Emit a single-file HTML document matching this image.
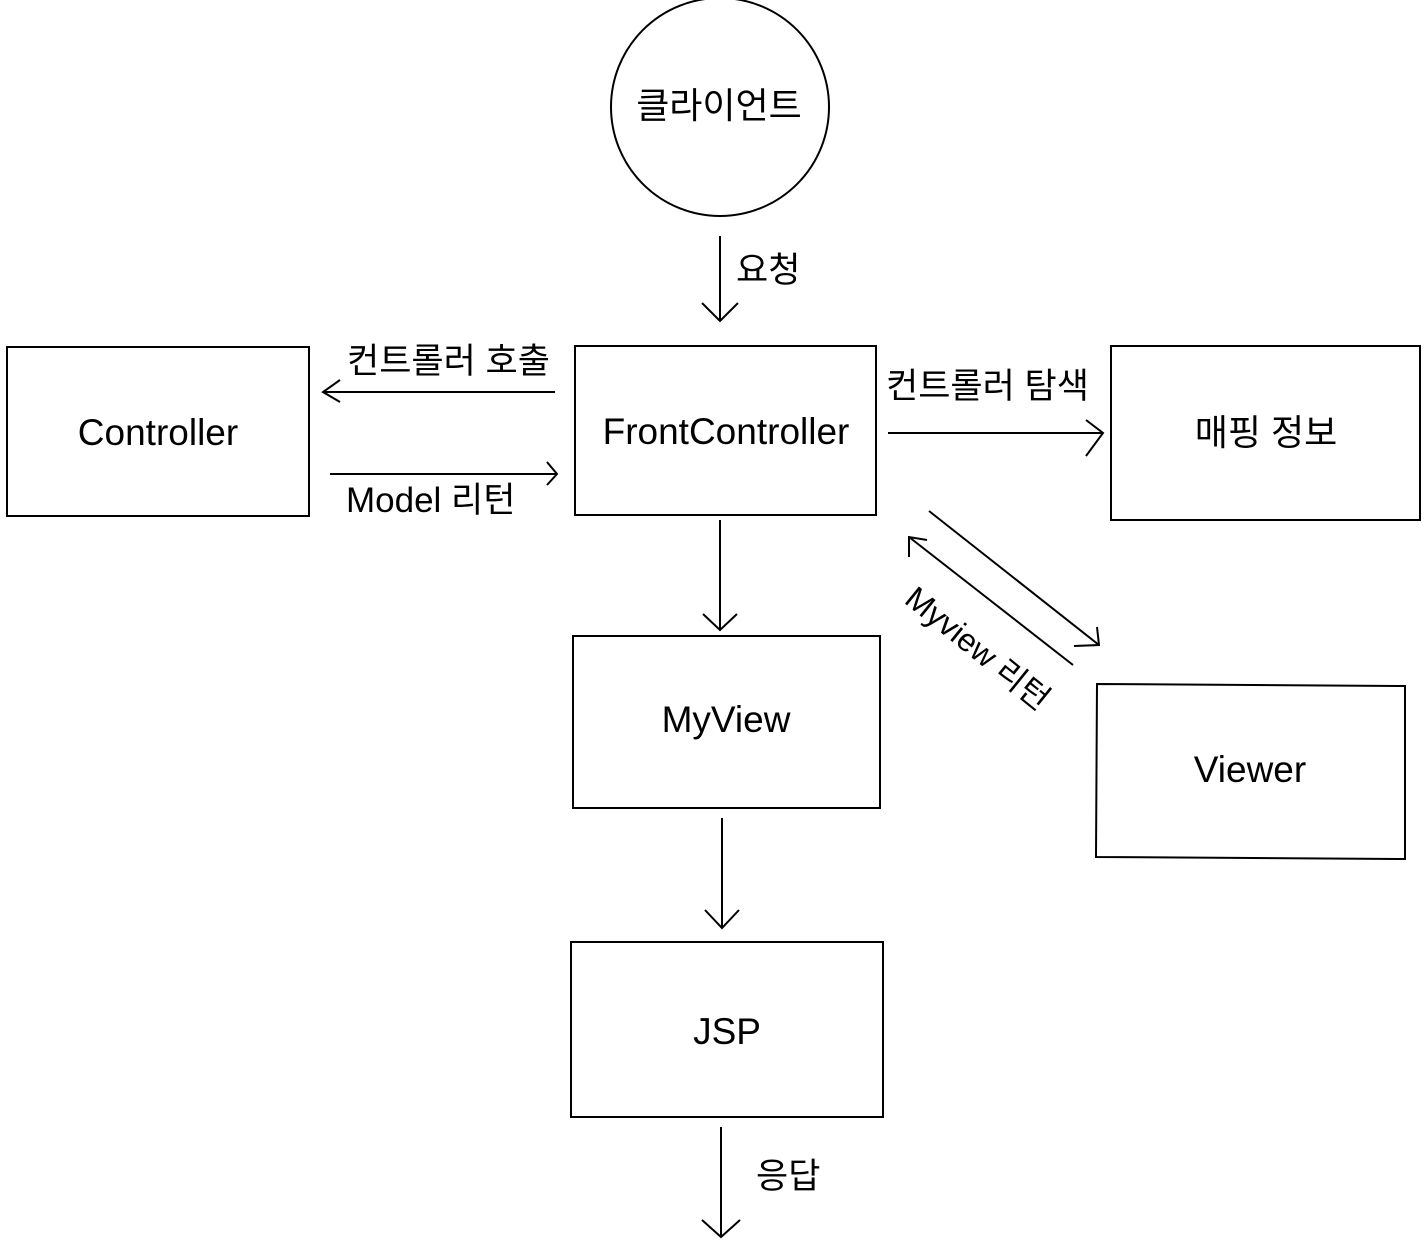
<!DOCTYPE html>
<html><head><meta charset="utf-8"><style>
html,body{margin:0;padding:0;background:#fff;}
svg text{font-family:"Liberation Sans","Noto Sans CJK KR",sans-serif;fill:#000;}
</style></head><body>
<svg width="1428" height="1249" viewBox="0 0 1428 1249" xmlns="http://www.w3.org/2000/svg">
<g fill="none" stroke="#000" stroke-width="2">
<circle cx="720" cy="107" r="109"/>
<rect x="7" y="347" width="302" height="169"/>
<rect x="575" y="346" width="301" height="169"/>
<rect x="1111" y="346" width="309" height="174"/>
<rect x="573" y="636" width="307" height="172"/>
<polygon points="1097,684 1405,686 1405,859 1096,857"/>
<rect x="571" y="942" width="312" height="175"/>
<line x1="720" y1="236" x2="720" y2="320"/><polyline points="702,303 720,321 738,303"/>
<line x1="555" y1="392" x2="323" y2="392"/><polyline points="340,380 323,392 340,402"/>
<line x1="330" y1="474" x2="557" y2="474"/><polyline points="547,462 557,474 547,485"/>
<line x1="888" y1="433" x2="1103" y2="433"/><polyline points="1086,420 1103,433 1086,456"/>
<line x1="720" y1="520" x2="720" y2="630"/><polyline points="703,614 720,630 737,614"/>
<line x1="722" y1="818" x2="722" y2="928"/><polyline points="705,910 722,928 739,910"/>
<line x1="721" y1="1127" x2="721" y2="1237"/><polyline points="702,1220 721,1237 740,1220"/>
<line x1="929" y1="511" x2="1099" y2="645"/><polyline points="1074,646 1099,645 1097,627"/>
<line x1="1073" y1="665" x2="909" y2="537"/><polyline points="909,557 909,537 927,540"/>
</g>
<g font-size="37" text-anchor="middle">
<text x="158" y="445">Controller</text>
<text x="726" y="444">FrontController</text>
<text x="1250" y="782">Viewer</text>
<text x="726" y="732">MyView</text>
<text x="727" y="1044">JSP</text>
</g>
<g font-size="36" text-anchor="middle">
<text x="719" y="118">클라이언트</text>
<text x="1266" y="445">매핑 정보</text>
</g>
<g font-size="35">
<text x="736" y="282">요청</text>
<text x="347" y="373">컨트롤러 호출</text>
<text x="346" y="512">Model 리턴</text>
<text x="886" y="398">컨트롤러 탐색</text>
<text x="756" y="1188">응답</text>
</g>
<text font-size="32" transform="translate(903,602) rotate(39)">Myview 리턴</text>
</svg>
</body></html>
